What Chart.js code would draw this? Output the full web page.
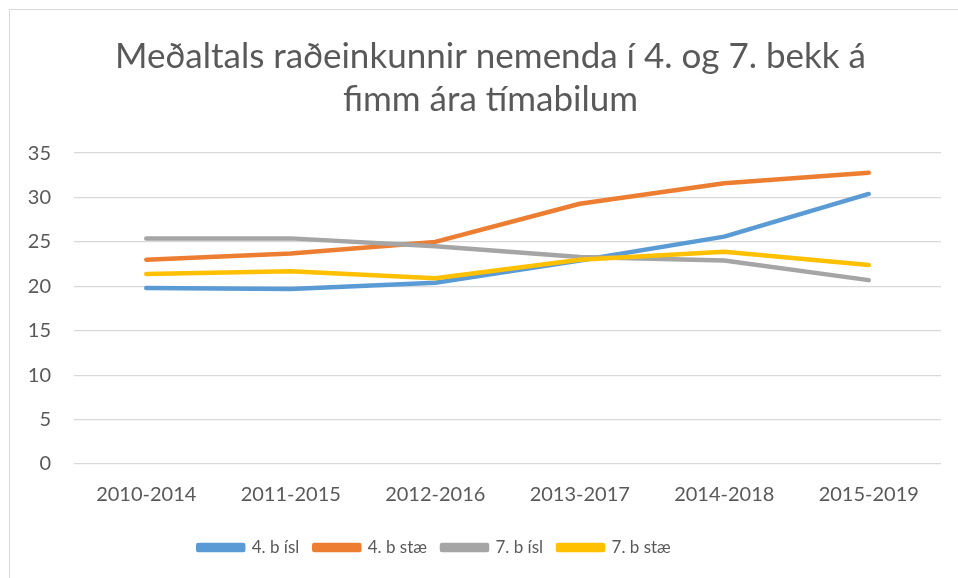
<!DOCTYPE html>
<html>
<head>
<meta charset="utf-8">
<script src="https://cdn.jsdelivr.net/npm/chart.js@4.4.1/dist/chart.umd.min.js"></script>
<style>
  html, body { margin: 0; padding: 0; background: #fff; }
  #frame {
    position: absolute; left: 9px; top: 9px; width: 980px; height: 600px;
    border-left: 1.5px solid #d9d9d9; border-top: 1.5px solid #d9d9d9;
  }
  #wrap { position: absolute; left: 0; top: 0; width: 958px; height: 578px; }
</style>
</head>
<body>
<div id="frame"></div>
<div id="wrap"><canvas id="chart"></canvas></div>
<script>
"use strict";

const periods = ["2010-2014", "2011-2015", "2012-2016", "2013-2017", "2014-2018", "2015-2019"];
const isl4 = [19.8, 19.7, 20.4, 22.9, 25.6, 30.4];
const stae4 = [23.0, 23.7, 25.0, 29.3, 31.6, 32.8];
const isl7 = [25.4, 25.4, 24.5, 23.3, 22.9, 20.7];
const stae7 = [21.4, 21.7, 20.9, 23.0, 23.9, 22.4];
const yTicks = [0, 5, 10, 15, 20, 25, 30, 35];

const FONT = "Lato, 'Open Sans', sans-serif";
const TEXT = "#595959";

function line(label, data, color) {
  return {
    label: label,
    data: data,
    borderColor: color,
    backgroundColor: color,
    borderWidth: 4.5,
    borderCapStyle: "round",
    borderJoinStyle: "round",
    pointRadius: 0,
    tension: 0,
  };
}

// reversed so the last Excel series is painted on top; legend flips it back
const datasets = [
  line("7. b stæ", stae7, "#FFC000"),
  line("7. b ísl", isl7, "#A5A5A5"),
  line("4. b stæ", stae4, "#ED7D31"),
  line("4. b ísl", isl4, "#5B9BD5"),
];

// the original centres title and legend a bit off the plot centre
const nudge = {
  id: "nudge",
  afterLayout(chart) {
    chart.titleBlock.left += 15;
    chart.titleBlock.right += 15;
    chart.legend.left -= 41;
    chart.legend.right -= 41;
  },
};

const ctx = document.getElementById("chart").getContext("2d");
const chart = new Chart(ctx, {
  type: "line",
  data: { labels: periods, datasets: datasets },
  plugins: [nudge],
  options: {
    responsive: true,
    maintainAspectRatio: false,
    animation: false,
    layout: { padding: { left: 10, right: 17, top: 35, bottom: 12 } },
    plugins: {
      tooltip: { enabled: false },
      title: {
        display: true,
        text: ["Meðaltals raðeinkunnir nemenda í 4. og 7. bekk á", "fimm ára tímabilum"],
        color: TEXT,
        font: { family: FONT, size: 35, weight: "normal", lineHeight: 1.23 },
        padding: { top: 0, bottom: 32 },
      },
      legend: {
        position: "bottom",
        reverse: true,
        labels: {
          color: TEXT,
          font: { family: FONT, size: 17 },
          boxWidth: 45,
          boxHeight: 5,
          padding: 15,
        },
      },
    },
    scales: {
      x: {
        offset: true,
        grid: { display: false },
        border: { display: false },
        ticks: { color: TEXT, font: { family: FONT, size: 20 }, padding: 11, maxRotation: 0 },
        afterFit: (s) => { s.height = 60; },
      },
      y: {
        min: 0,
        max: 35,
        afterBuildTicks: (s) => { s.ticks = yTicks.map((v) => ({ value: v })); },
        grid: { color: "#d9d9d9", lineWidth: 1.3, drawTicks: false },
        border: { display: false },
        ticks: { color: TEXT, font: { family: FONT, size: 20 }, padding: 23 },
        afterFit: (s) => { s.width = 64; },
      },
    },
  },
});
</script>
</body>
</html>
